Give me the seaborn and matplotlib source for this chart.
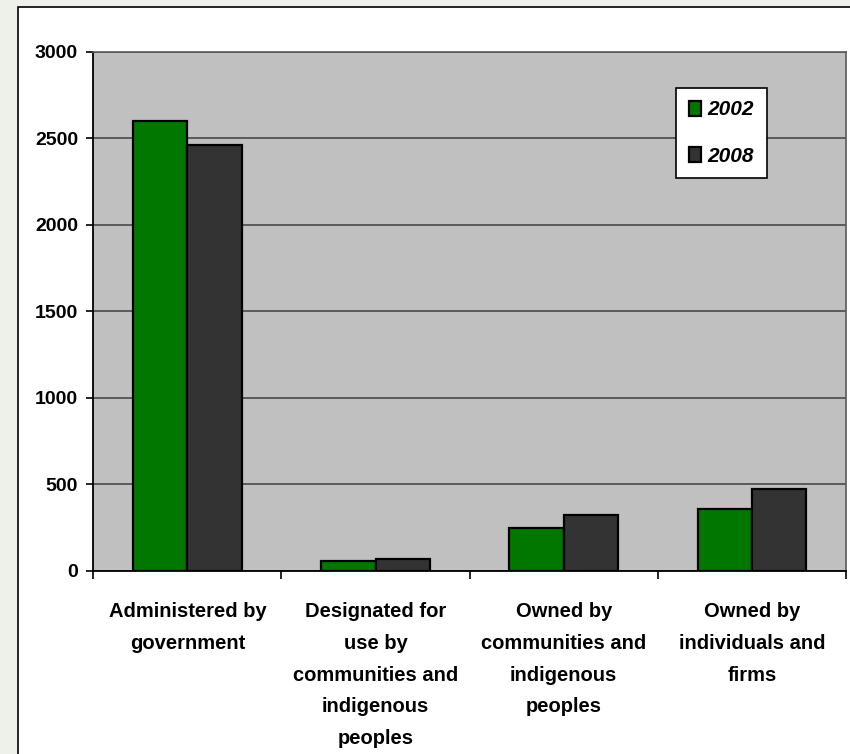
import pandas as pd
import matplotlib
matplotlib.use('Agg')
import matplotlib.pyplot as plt
import matplotlib.patches as mpatches
from matplotlib.ticker import FixedLocator
import seaborn as sns

## Data
categories = ['Administered by\ngovernment',
              'Designated for\nuse by\ncommunities and\nindigenous\npeoples',
              'Owned by\ncommunities and\nindigenous\npeoples',
              'Owned by\nindividuals and\nfirms']
values_2002 = [2600, 57, 244, 355]
values_2008 = [2458, 68, 321, 469]
years = ['2002', '2008']
y_ticks = [0, 500, 1000, 1500, 2000, 2500, 3000]

df = pd.DataFrame({
    'category': categories * 2,
    'year': [years[0]] * 4 + [years[1]] * 4,
    'value': values_2002 + values_2008,
})

sns.set_style('white')
plt.rcParams['font.family'] = ['Liberation Sans', 'DejaVu Sans']
plt.rcParams['font.weight'] = 'bold'
plt.rcParams['text.color'] = 'black'
plt.rcParams['xtick.color'] = 'black'
plt.rcParams['ytick.color'] = 'black'

fig = plt.figure(figsize=(8.5, 7.54), dpi=100, facecolor='#eef1ea')
# white chart box with black border, behind the axes
box = mpatches.Rectangle((18 / 850, -0.01), 1.0, 1 - 7 / 754 + 0.01,
                         transform=fig.transFigure, facecolor='white',
                         edgecolor='black', linewidth=1.2, zorder=-10)
fig.add_artist(box)

ax = fig.add_axes([93.3 / 850, 1 - 570.5 / 754, (846 - 93.3) / 850, 518.8 / 754])
ax.set_facecolor('#c0c0c0')

sns.barplot(data=df, x='category', y='value', hue='year', ax=ax,
            palette=['#007800', '#333333'], width=0.578, gap=0,
            edgecolor='black', linewidth=1.6, saturation=1, zorder=3)

ax.set_ylim(0, 3000)
ax.set_xlim(-0.5, 3.5)
ax.set_yticks(y_ticks)
ax.set_yticklabels([str(t) for t in y_ticks], fontsize=14, fontweight='bold')
ax.yaxis.grid(True, color='#5a5a5a', linewidth=1.4, zorder=1)
ax.set_axisbelow(True)
ax.tick_params(axis='y', direction='out', length=5, width=1.2, color='black', pad=6, left=True)

ax.set_xticks(range(4))
ax.set_xticklabels(categories, fontsize=14.5, fontweight='bold', linespacing=1.84, va='top')
ax.xaxis.set_minor_locator(FixedLocator([-0.5, 0.5, 1.5, 2.5, 3.5]))
ax.tick_params(axis='x', which='major', length=0, pad=23)
ax.tick_params(axis='x', which='minor', direction='out', length=6, width=1.2, color='black', bottom=True)
ax.set_xlabel('')
ax.set_ylabel('')

for side in ['left', 'bottom']:
    ax.spines[side].set_color('black')
    ax.spines[side].set_linewidth(1.3)
for side in ['top', 'right']:
    ax.spines[side].set_color('#5a5a5a')
    ax.spines[side].set_linewidth(1.2)

handles, labels = ax.get_legend_handles_labels()
leg = ax.legend(handles, labels, loc='center', bbox_to_anchor=(0.8346, 0.8433),
                frameon=True, fancybox=False, framealpha=1, edgecolor='black',
                handlelength=0.6, handleheight=0.75, handletextpad=0.3,
                labelspacing=1.3, borderpad=0.6, borderaxespad=0,
                prop={'size': 15, 'weight': 'bold', 'style': 'italic'})
leg.get_frame().set_linewidth(1.2)
leg.set_zorder(5)

fig.savefig('out.png', dpi=100, facecolor=fig.get_facecolor())
